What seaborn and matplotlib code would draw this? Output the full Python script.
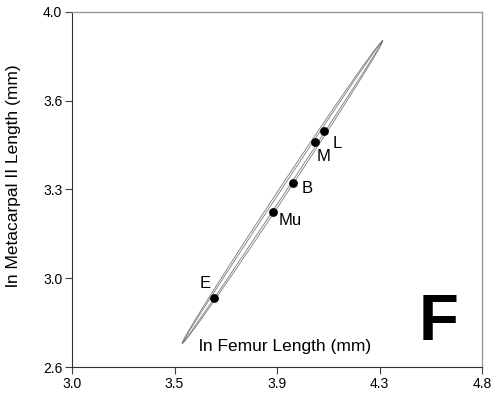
import numpy as np
import pandas as pd
import matplotlib
matplotlib.use("Agg")
import matplotlib.pyplot as plt
import seaborn as sns

# ---- data ----
labels = ["E", "Mu", "B", "M", "L"]
femur = [3.622, 3.884, 3.972, 4.068, 4.108]
metacarpal = [2.873, 3.212, 3.324, 3.489, 3.531]
label_dx = [-6, 12, 10, 6, 9]     # label offsets (points)
label_dy = [10, -6, -4, -11, -9]

x_ticks = [3.0, 3.45, 3.9, 4.35, 4.8]
x_tick_labels = ["3.0", "3.5", "3.9", "4.3", "4.8"]
y_ticks = [2.6, 2.95, 3.3, 3.65, 4.0]
y_tick_labels = ["2.6", "3.0", "3.3", "3.6", "4.0"]

ellipse_center = (3.924, 3.290)
ellipse_major = (0.440, 0.597)
ellipse_minor_outer = (0.0160, -0.0095)
ellipse_minor_inner = (0.0085, -0.0050)

sns.set_theme(style="white")
plt.rcParams["font.family"] = ["Liberation Sans", "DejaVu Sans"]
plt.rcParams["text.color"] = "black"
plt.rcParams["axes.labelcolor"] = "black"
plt.rcParams["xtick.color"] = "black"
plt.rcParams["ytick.color"] = "black"

fig = plt.figure(figsize=(5.0, 4.03), dpi=100)
ax = fig.add_axes([0.144, 0.0893, 0.820, 0.881])

t = np.linspace(0, 2 * np.pi, 400)
for minor in (ellipse_minor_outer, ellipse_minor_inner):
    ex = ellipse_center[0] + np.cos(t) * ellipse_major[0] + np.sin(t) * minor[0]
    ey = ellipse_center[1] + np.cos(t) * ellipse_major[1] + np.sin(t) * minor[1]
    ax.plot(ex, ey, color="#7a7a7a", lw=0.6, zorder=2)

df = pd.DataFrame({"femur": femur, "metacarpal": metacarpal, "label": labels})
sns.scatterplot(data=df, x="femur", y="metacarpal", ax=ax, color="black",
                s=40, edgecolor="black", linewidth=0, zorder=3, legend=False)
for lab, xv, yv, dx, dy in zip(labels, femur, metacarpal, label_dx, label_dy):
    ax.annotate(lab, (xv, yv), xytext=(dx, dy), textcoords="offset points",
                ha="center", va="center", fontsize=12, color="black")

ax.set_xlim(3.0, 4.8)
ax.set_ylim(2.6, 4.0)
ax.set_xticks(x_ticks)
ax.set_xticklabels(x_tick_labels)
ax.set_yticks(y_ticks)
ax.set_yticklabels(y_tick_labels)
ax.tick_params(axis="both", which="major", direction="out", length=5, width=0.8,
               color="#404040", labelcolor="black", labelsize=10, pad=2,
               left=True, bottom=True)

ax.set_xlabel("")
ax.set_ylabel("ln Metacarpal II Length (mm)", fontsize=12.5, labelpad=6)
ax.yaxis.set_label_coords(-0.125, 0.54)
ax.text(0.52, 0.058, "ln Femur Length (mm)", transform=ax.transAxes,
        ha="center", va="center", fontsize=12.5, color="black")
ax.text(0.893, 0.125, "F", transform=ax.transAxes, ha="center", va="center",
        fontsize=47, fontweight="bold", color="black")

for side in ("left", "bottom"):
    ax.spines[side].set_color("#303030")
    ax.spines[side].set_linewidth(0.8)
for side in ("top", "right"):
    ax.spines[side].set_color("#999999")
    ax.spines[side].set_linewidth(1.0)

fig.savefig("out.png", dpi=100)
